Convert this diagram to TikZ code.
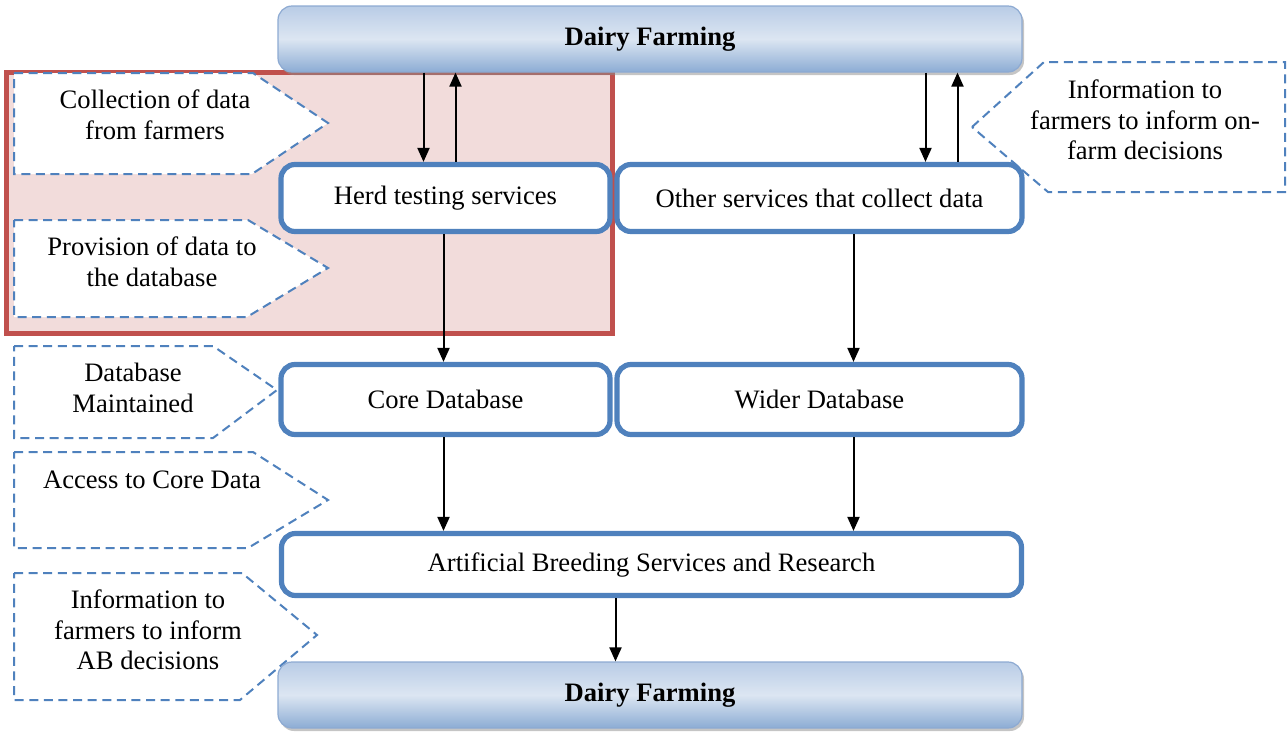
\documentclass[tikz,border=0pt]{standalone}
\usepackage{fontspec}
\setmainfont{Liberation Serif}
\usepackage{xcolor}
\usetikzlibrary{arrows.meta,shadows}
\definecolor{boxblue}{RGB}{79,129,189}
\definecolor{redline}{RGB}{192,80,77}
\definecolor{redfill}{RGB}{242,220,219}
\definecolor{barlight}{RGB}{220,230,242}
\definecolor{bartop}{RGB}{185,204,230}
\definecolor{bardark}{RGB}{140,172,212}
\definecolor{barline}{RGB}{141,170,210}
\begin{document}
\begin{tikzpicture}[x=0.5pt,y=-0.5pt,
  font=\fontsize{13.3}{15.3}\selectfont,
  box/.style={draw=boxblue, line width=2.6pt, rounded corners=7pt, fill=white},
  bar/.style={draw=barline, line width=0.6pt, rounded corners=7pt,
    top color=bartop, bottom color=bardark, middle color=barlight,
    drop shadow={shadow xshift=1pt, shadow yshift=-1.5pt, fill=black!45},
    minimum width=372pt, minimum height=33pt, font=\fontsize{13.3}{15.3}\selectfont\bfseries},
  callout/.style={draw=boxblue, line width=1pt, dash pattern=on 4.5pt off 2.8pt, fill=white},
  note/.style={align=center},
  arr/.style={-{Triangle[length=7pt,width=6pt]}, line width=1pt}]
\useasboundingbox (0,0) rectangle (1287,740);
\draw[draw=redline, fill=redfill, line width=2.5pt] (6.5,72.5) rectangle (612.5,333.5);

\draw[callout] (14,73)--(253,73)--(328,123)--(252,174)--(14,174)--cycle;
\draw[callout] (14,220)--(248,220)--(328,268)--(247,317)--(14,317)--cycle;
\draw[callout] (14,346)--(213,346)--(277,390)--(213,438)--(14,438)--cycle;
\draw[callout] (14,452)--(253,452)--(328,500)--(248,548)--(14,548)--cycle;
\draw[callout] (14,573)--(242,573)--(317,635)--(240,700)--(14,700)--cycle;
\draw[callout] (972,127)--(1044,62)--(1285,62)--(1285,192)--(1048,192)--cycle;

\node[note] (collect) at (155,115) {Collection of data\\from farmers};
\node[note] (provide) at (152,262) {Provision of data to\\the database};
\node[note] (maintain) at (133,388) {Database\\Maintained};
\node[note] (access) at (152,480) {Access to Core Data};
\node[note] (infoab) at (148,630) {Information to\\farmers to inform\\AB decisions};
\node[note] (infofarm) at (1145,120) {Information to\\farmers to inform on-\\farm decisions};

\node[box, minimum width=164.5pt, minimum height=33.5pt] (herd) at (445.5,198) {Herd testing services};
\node[box, minimum width=202.5pt, minimum height=33.5pt] (other) at (819.5,198) {Other services that collect data};
\node[box, minimum width=164.5pt, minimum height=35pt] (core) at (445.5,399.5) {Core Database};
\node[box, minimum width=202.5pt, minimum height=35pt] (wider) at (819.5,399.5) {Wider Database};
\node[box, minimum width=370pt, minimum height=31pt] (ab) at (651.5,564.5) {Artificial Breeding Services and Research};

\node[bar] (farmtop) at (650,39) {Dairy Farming};
\node[bar] (farmbot) at (650,695) {Dairy Farming};

\draw[arr] ([xshift=-11pt]herd.north |- farmtop.south) -- ([xshift=-11pt]herd.north);
\draw[arr] ([xshift=5pt]herd.north) -- ([xshift=5pt]herd.north |- farmtop.south);
\draw[arr] ([xshift=53pt]other.north |- farmtop.south) -- ([xshift=53pt]other.north);
\draw[arr] ([xshift=69pt]other.north) -- ([xshift=69pt]other.north |- farmtop.south);
\draw[arr] ([xshift=-1pt]herd.south) -- ([xshift=-1pt]core.north);
\draw[arr] ([xshift=17pt]other.south) -- ([xshift=17pt]wider.north);
\draw[arr] ([xshift=-1pt]core.south) -- ([xshift=-1pt]core.south |- ab.north);
\draw[arr] ([xshift=17pt]wider.south) -- ([xshift=17pt]wider.south |- ab.north);
\draw[arr] ([xshift=-18pt]ab.south) -- ([xshift=-18pt]ab.south |- farmbot.north);
\end{tikzpicture}
\end{document}
